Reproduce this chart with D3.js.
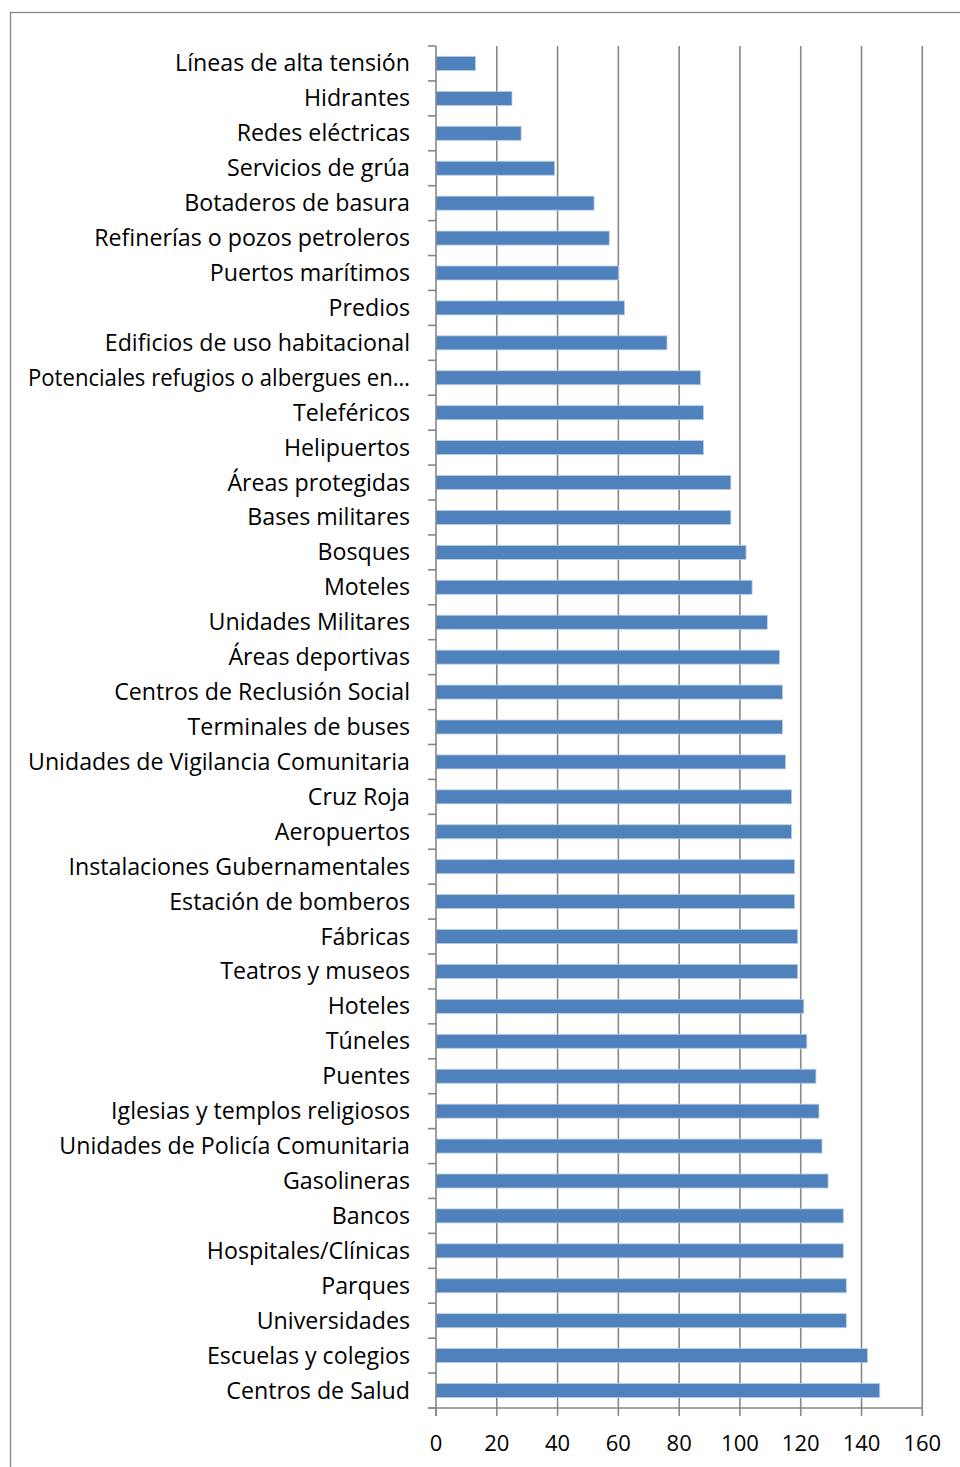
<!DOCTYPE html>
<html>
<head>
<meta charset="utf-8">
<script src="https://cdn.jsdelivr.net/npm/d3@7"></script>
<style>
  body { margin: 0; background: #fff; }
  svg { display: block; }
</style>
</head>
<body>
<script>
const categories = [
  "Líneas de alta tensión", "Hidrantes", "Redes eléctricas", "Servicios de grúa",
  "Botaderos de basura", "Refinerías o pozos petroleros", "Puertos marítimos", "Predios",
  "Edificios de uso habitacional", "Potenciales refugios o albergues en…", "Teleféricos",
  "Helipuertos", "Áreas protegidas", "Bases militares", "Bosques", "Moteles",
  "Unidades Militares", "Áreas deportivas", "Centros de Reclusión Social", "Terminales de buses",
  "Unidades de Vigilancia Comunitaria", "Cruz Roja", "Aeropuertos", "Instalaciones Gubernamentales",
  "Estación de bomberos", "Fábricas", "Teatros y museos", "Hoteles", "Túneles", "Puentes",
  "Iglesias y templos religiosos", "Unidades de Policía Comunitaria", "Gasolineras", "Bancos",
  "Hospitales/Clínicas", "Parques", "Universidades", "Escuelas y colegios", "Centros de Salud"
];
const values = [
  13, 25, 28, 39, 52, 57, 60, 62, 76, 87, 88, 88, 97, 97, 102, 104, 109, 113, 114, 114,
  115, 117, 117, 118, 118, 119, 119, 121, 122, 125, 126, 127, 129, 134, 134, 135, 135, 142, 146
];
const xTicks = [0, 20, 40, 60, 80, 100, 120, 140, 160];

const W = 960, H = 1467;
const plotL = 436, plotR = 922.3, plotT = 46, plotB = 1408;
const font = "'Open Sans', 'Noto Sans', sans-serif";
const gray = "#878787";

const svg = d3.select("body").append("svg")
  .attr("width", W)
  .attr("height", H);

// outer frame (runs off the right and bottom edge)
svg.append("rect")
  .attr("x", 10.5).attr("y", 12.5)
  .attr("width", 1000).attr("height", 1500)
  .attr("fill", "none")
  .attr("stroke", gray)
  .attr("stroke-width", 1.3);

const x = d3.scaleLinear().domain([0, 160]).range([plotL, plotR]);
const y = d3.scaleBand().domain(categories).range([plotT, plotB]);

// vertical gridlines
svg.append("g").selectAll("line")
  .data(xTicks.slice(1))
  .enter().append("line")
    .attr("x1", d => x(d)).attr("x2", d => x(d))
    .attr("y1", plotT).attr("y2", plotB)
    .attr("stroke", gray)
    .attr("stroke-width", 1.6);

// bars
const barH = 14;
svg.append("g").selectAll("rect")
  .data(categories)
  .enter().append("rect")
    .attr("x", x(0))
    .attr("y", d => y(d) + y.bandwidth() / 2 - barH / 2)
    .attr("width", (d, i) => x(values[i]) - x(0))
    .attr("height", barH)
    .attr("fill", "#4F81BD")
    .attr("stroke", "#B9CDE5")
    .attr("stroke-width", 0.8);

// left axis line and ticks at band edges
const yEdges = categories.map(c => y(c)).concat([plotB]);
svg.append("line")
  .attr("x1", plotL).attr("x2", plotL)
  .attr("y1", plotT).attr("y2", plotB + 8)
  .attr("stroke", gray).attr("stroke-width", 1.6);
svg.append("g").selectAll("line")
  .data(yEdges)
  .enter().append("line")
    .attr("x1", plotL - 8).attr("x2", plotL)
    .attr("y1", d => d).attr("y2", d => d)
    .attr("stroke", gray).attr("stroke-width", 1.6);

// bottom axis
svg.append("line")
  .attr("x1", plotL - 8).attr("x2", plotR)
  .attr("y1", plotB).attr("y2", plotB)
  .attr("stroke", gray).attr("stroke-width", 1.6);
svg.append("g").selectAll("line")
  .data(xTicks)
  .enter().append("line")
    .attr("x1", d => x(d)).attr("x2", d => x(d))
    .attr("y1", plotB).attr("y2", plotB + 8)
    .attr("stroke", gray).attr("stroke-width", 1.6);

svg.append("g").selectAll("text")
  .data(xTicks)
  .enter().append("text")
    .attr("x", d => x(d))
    .attr("y", 1451)
    .attr("text-anchor", "middle")
    .attr("font-family", font)
    .attr("font-size", 22)
    .attr("fill", "#000")
    .text(d => d);

// category labels, longest ones squeezed so they start at x=28 like the original
const maxLabelW = 382;
svg.append("g").selectAll("text")
  .data(categories)
  .enter().append("text")
    .attr("x", 410)
    .attr("y", d => y(d) + y.bandwidth() / 2 + 8)
    .attr("text-anchor", "end")
    .attr("font-family", font)
    .attr("font-size", 23.2)
    .attr("fill", "#000")
    .text(d => d)
    .each(function () {
      if (this.getComputedTextLength() > maxLabelW) {
        d3.select(this)
          .attr("textLength", maxLabelW)
          .attr("lengthAdjust", "spacingAndGlyphs");
      }
    });
</script>
</body>
</html>
